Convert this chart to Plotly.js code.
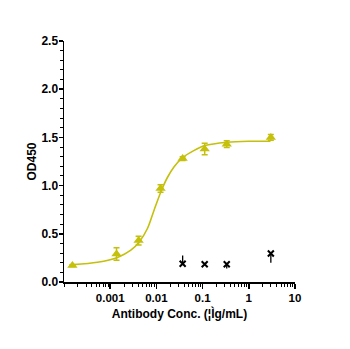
<!DOCTYPE html>
<html>
<head>
<meta charset="utf-8">
<script src="https://cdn.plot.ly/plotly-3.0.1.min.js"></script>
<style>html,body{margin:0;padding:0;background:#fff;}#chart{width:350px;height:349px;}</style>
</head>
<body>
<div id="chart"></div>
<script>
// Antibody concentrations (µg/mL) and measured OD450
const conc = [0.000152, 0.00137, 0.00412, 0.0123, 0.037, 0.111, 0.333, 3];
const od = [0.17, 0.29, 0.43, 0.97, 1.28, 1.38, 1.43, 1.50];
const odErr = [0.01, 0.065, 0.045, 0.04, 0.02, 0.06, 0.035, 0.03];

// Fitted curve
const curveConc = [0.000158, 0.00053, 0.00144, 0.0028, 0.00424, 0.0064, 0.0089, 0.0129, 0.0173, 0.0242, 0.0348, 0.063, 0.112, 0.34, 1.0, 2.95];
const curveOD = [0.18, 0.205, 0.255, 0.33, 0.415, 0.555, 0.745, 0.952, 1.084, 1.195, 1.28, 1.36, 1.415, 1.45, 1.46, 1.46];

// Negative control
const negConc = [0.037, 0.111, 0.333, 3];
const negOD = [0.19, 0.184, 0.184, 0.295];
const negErrPlus = [0.085, 0.01, 0, 0];
const negErrMinus = [0, 0.01, 0.045, 0.095];

const xTicks = [0.001, 0.01, 0.1, 1, 10];
const xTickText = ['0.001', '0.01', '0.1', '1', '10'];

const olive = 'rgb(196,192,12)';
const font = {family: 'Liberation Sans, Arial, sans-serif', size: 12, color: '#000', weight: 'bold'};

const traces = [
  {x: curveConc, y: curveOD, mode: 'lines', type: 'scatter',
   line: {color: olive, width: 1.6, shape: 'spline', smoothing: 0.9}, hoverinfo: 'skip'},
  {x: conc, y: od, mode: 'markers', type: 'scatter',
   marker: {symbol: 'triangle-up', size: 9, color: olive},
   error_y: {type: 'data', array: odErr, visible: true, color: olive, thickness: 1.5, width: 3}},
  {x: negConc, y: negOD, mode: 'markers', type: 'scatter',
   marker: {symbol: 'x-thin-open', size: 6, color: '#000', line: {color: '#000', width: 2}},
   error_y: {type: 'data', symmetric: false, array: negErrPlus, arrayminus: negErrMinus, visible: true, color: '#000', thickness: 1.3, width: 0}}
];

const layout = {
  width: 350, height: 349,
  margin: {l: 64, r: 55, t: 41, b: 67, pad: 0},
  paper_bgcolor: '#fff', plot_bgcolor: '#fff',
  showlegend: false,
  font: font,
  xaxis: {
    type: 'log', range: [-4, 1],
    tickvals: xTicks, ticktext: xTickText,
    showgrid: false, zeroline: false,
    showline: true, linecolor: '#000', linewidth: 1.5,
    ticks: 'outside', ticklen: 5, tickwidth: 1.5, tickcolor: '#000',
    minor: {ticks: 'outside', ticklen: 3, tickwidth: 1, tickcolor: '#000', dtick: 'D1', showgrid: false},
    tickfont: {family: font.family, size: 11.5, color: '#000', weight: 'bold'},
    title: {text: 'Antibody Conc. (¦Ìg/mL)', font: {family: font.family, size: 12, color: '#000', weight: 'bold'}, standoff: 6},
    fixedrange: true
  },
  yaxis: {
    range: [0, 2.5], dtick: 0.5, tick0: 0, tickformat: '.1f',
    showgrid: false, zeroline: false,
    showline: true, linecolor: '#000', linewidth: 1.5,
    ticks: 'outside', ticklen: 4, tickwidth: 1.5, tickcolor: '#000',
    ticklabelstandoff: -2,
    minor: {ticks: 'outside', ticklen: 3, tickwidth: 1, tickcolor: '#000', dtick: 0.1, showgrid: false},
    tickfont: {family: font.family, size: 12, color: '#000', weight: 'bold'},
    title: {text: 'OD450', font: {family: font.family, size: 12, color: '#000', weight: 'bold'}, standoff: 2},
    fixedrange: true
  }
};

Plotly.newPlot('chart', traces, layout, {displayModeBar: false, staticPlot: true});
</script>
</body>
</html>
